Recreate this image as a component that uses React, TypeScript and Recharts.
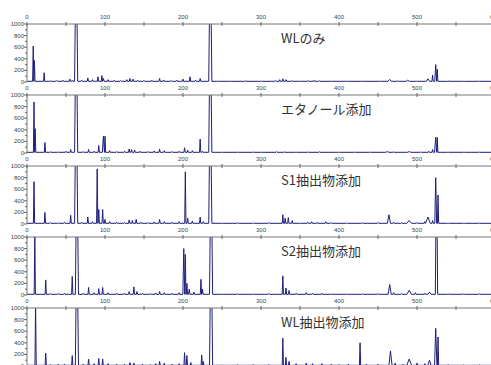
import { LineChart, Line, XAxis, YAxis } from 'recharts';

// retention position, height, optional half-width
type Peak = [number, number, number?];

const titles = ['WLのみ', 'エタノール添加', 'S1抽出物添加', 'S2抽出物添加', 'WL抽出物添加'];

const xTicks = [0, 50, 100, 150, 200, 250, 300, 350, 400, 450, 500, 550, 600];
const yTicks = [0, 100, 200, 300, 400, 500, 600, 700, 800, 900, 1000];

const peaksWL: Peak[] = [
  [8, 620], [9.5, 370], [22, 160], [30, 20], [38, 25], [46, 30], [55, 50], [58, 30], [63, 2500, 2],
  [70, 30], [78, 70], [84, 40], [91, 90], [96, 110], [98, 60], [104, 40], [112, 30], [120, 25],
  [128, 40], [132, 60], [136, 50], [142, 30], [150, 25], [160, 30], [170, 60], [175, 35], [185, 25],
  [192, 30], [200, 50], [209, 90], [216, 30], [222, 60], [235, 2500, 2], [245, 20], [260, 15],
  [280, 20], [300, 15], [318, 25], [324, 40], [328, 55], [332, 40], [340, 25], [350, 20], [360, 25],
  [368, 30], [375, 20], [390, 15], [410, 15], [430, 15], [452, 15], [465, 45, 2], [475, 20],
  [488, 30, 2], [500, 20], [514, 55, 2], [520, 120], [524, 300, 1.2], [526, 220], [540, 20],
  [560, 15], [580, 15],
];

const peaksEtOH: Peak[] = [
  [9, 880], [10.5, 420], [23, 180], [30, 20], [40, 20], [50, 30], [56, 60], [63, 2500, 2], [72, 25],
  [79, 60], [86, 30], [92, 130], [98, 290, 1.5], [100, 290], [106, 40], [115, 25], [125, 30],
  [131, 70], [134, 60], [138, 50], [145, 30], [155, 25], [163, 35], [170, 70], [176, 40], [186, 25],
  [195, 30], [202, 90], [206, 50], [212, 40], [222, 240], [225, 30], [235, 2500, 2], [250, 15],
  [270, 15], [290, 20], [300, 15], [320, 25], [330, 20], [345, 15], [360, 20], [375, 20], [400, 15],
  [420, 15], [440, 15], [462, 25, 2], [470, 20], [490, 25, 2], [505, 20], [515, 30], [520, 60],
  [524, 270, 1.5], [526, 270], [540, 15], [560, 15], [580, 15],
];

const peaksS1: Peak[] = [
  [9, 730], [23, 200], [30, 25], [40, 20], [48, 30], [56, 150], [63, 2500, 2], [70, 30], [78, 120],
  [84, 40], [90, 950], [92, 250], [97, 250], [100, 80], [106, 40], [115, 30], [125, 25], [131, 70],
  [135, 60], [140, 80], [146, 30], [155, 25], [163, 35], [170, 80], [176, 40], [186, 30], [195, 40],
  [203, 900], [206, 100], [212, 50], [222, 120], [226, 40], [235, 2500, 2], [250, 15], [270, 20],
  [290, 20], [310, 25], [328, 160], [331, 100], [335, 110], [340, 60], [350, 20], [360, 30],
  [365, 40], [372, 30], [383, 40], [390, 25], [410, 20], [430, 20], [450, 25], [464, 160, 2],
  [470, 30], [480, 20], [490, 60, 3], [500, 25], [510, 40], [514, 120, 3], [520, 60],
  [524, 800, 1.2], [527, 500], [540, 15], [560, 15], [580, 15],
];

const peaksS2: Peak[] = [
  [10, 1100], [24, 260], [30, 25], [40, 25], [48, 30], [58, 320], [64, 2500, 2], [72, 30], [79, 130],
  [86, 40], [92, 110], [97, 130], [104, 40], [115, 30], [125, 30], [131, 60], [137, 140], [141, 60],
  [148, 30], [158, 25], [165, 35], [170, 60], [176, 40], [186, 30], [195, 40], [201, 800, 1.2],
  [203, 700], [205, 200], [208, 100], [214, 50], [223, 270], [225, 100], [236, 2500, 2], [250, 15],
  [270, 20], [290, 20], [310, 25], [328, 330], [332, 120], [336, 80], [345, 30], [358, 40],
  [366, 30], [378, 30], [390, 20], [410, 20], [430, 20], [450, 25], [465, 180, 2], [470, 40],
  [480, 25], [490, 80, 3], [498, 40], [510, 30], [516, 50, 2], [525, 2500, 1.5], [540, 20],
  [560, 20], [580, 20],
];

const peaksWLx: Peak[] = [
  [11, 1100], [24, 220], [30, 25], [40, 30], [48, 30], [58, 180], [64, 2500, 2], [72, 30], [79, 120],
  [86, 40], [92, 130], [97, 120], [104, 40], [115, 30], [125, 30], [132, 60], [137, 50], [148, 30],
  [158, 25], [165, 40], [170, 80], [176, 50], [186, 30], [195, 40], [202, 230], [205, 180],
  [210, 60], [224, 190], [226, 80], [236, 2500, 2], [250, 20], [270, 20], [290, 25], [310, 25],
  [328, 480], [332, 150], [336, 80], [345, 40], [358, 50], [366, 40], [378, 40], [390, 30],
  [400, 25], [412, 30], [427, 400], [435, 30], [450, 30], [466, 260, 2], [472, 50], [482, 30],
  [490, 120, 3], [500, 50], [510, 40], [516, 100, 2], [524, 650, 1.5], [527, 500], [540, 25],
  [560, 20], [580, 20],
];

const panels = [peaksWL, peaksEtOH, peaksS1, peaksS2, peaksWLx];

const BASE = 12;
const AXIS_H = 14;
const PLOT_H = 58;
const Y_W = 27;
const FIRST_TOP = 24;
const STEP = 71;

function trace(peaks: Peak[]) {
  const pts: { t: number; v: number }[] = [{ t: 0, v: BASE }];
  peaks.forEach(([p, h, w = 0.8]) => {
    pts.push({ t: p - w, v: BASE }, { t: p, v: h }, { t: p + w, v: BASE });
  });
  pts.push({ t: 600, v: BASE });
  return pts.sort((a, b) => a.t - b.t);
}

const XTick = (props: any) => {
  const { x, payload } = props;
  const major = payload.value % 100 === 0;
  return (
    <g>
      <line x1={x} x2={x} y1={AXIS_H - 2} y2={AXIS_H + 2} stroke="#666" />
      {major && (
        <text x={x} y={AXIS_H - 5} textAnchor="middle" fontSize={6} fill="#444" fontFamily="Liberation Sans">
          {payload.value}
        </text>
      )}
    </g>
  );
};

const YTick = (props: any) => {
  const { y, payload } = props;
  const major = payload.value % 200 === 0;
  return (
    <g>
      <line x1={Y_W - (major ? 3 : 2)} x2={Y_W} y1={y} y2={y} stroke="#666" />
      {major && (
        <text x={Y_W - 3} y={y + 2} textAnchor="end" fontSize={6} fill="#444" fontFamily="Liberation Sans">
          {payload.value}
        </text>
      )}
    </g>
  );
};

export default function App() {
  return (
    <div style={{ position: 'absolute', left: 0, top: 0, width: 491, height: 365, overflow: 'hidden', background: '#fff' }}>
      {panels.map((peaks, i) => {
        const top = FIRST_TOP + i * STEP;
        return (
          <div key={i}>
            <div style={{ position: 'absolute', left: 0, top: top - AXIS_H }}>
              <LineChart
                width={Y_W + 468}
                height={AXIS_H + PLOT_H + 3}
                data={trace(peaks)}
                margin={{ top: 0, right: 0, bottom: 3, left: 0 }}
              >
                <XAxis
                  type="number"
                  dataKey="t"
                  orientation="top"
                  domain={[0, 600]}
                  ticks={xTicks}
                  interval={0}
                  height={AXIS_H}
                  allowDataOverflow
                  stroke="#777"
                  tickLine={false}
                  tick={<XTick />}
                />
                <YAxis
                  type="number"
                  domain={[0, 1000]}
                  ticks={yTicks}
                  interval={0}
                  width={Y_W}
                  allowDataOverflow
                  stroke="#777"
                  tickLine={false}
                  tick={<YTick />}
                />
                <Line
                  type="linear"
                  dataKey="v"
                  stroke="#1f1f78"
                  strokeWidth={1}
                  dot={false}
                  isAnimationActive={false}
                />
              </LineChart>
            </div>
            <div
              style={{
                position: 'absolute',
                left: 281,
                top: top + 6,
                fontSize: 13,
                lineHeight: '15px',
                color: '#333',
                fontFamily: '"Noto Sans CJK JP", sans-serif',
                whiteSpace: 'nowrap',
              }}
            >
              {titles[i]}
            </div>
          </div>
        );
      })}
    </div>
  );
}
